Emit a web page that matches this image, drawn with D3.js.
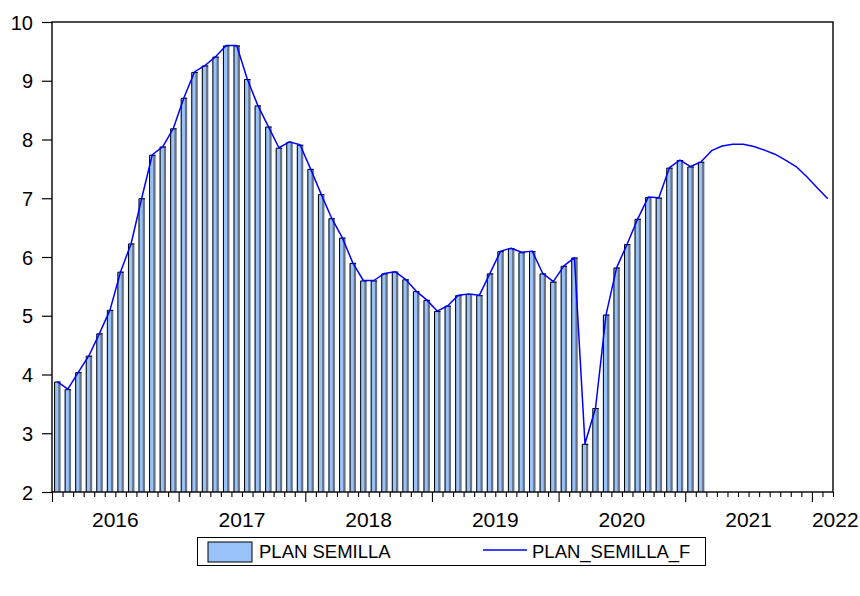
<!DOCTYPE html>
<html>
<head>
<meta charset="utf-8">
<script src="https://cdn.jsdelivr.net/npm/d3@7"></script>
<style>
  body { margin: 0; background: #fff; }
  svg text { font-family: Arial, "Liberation Sans", sans-serif; fill: #000; }
</style>
</head>
<body>
<svg id="chart" width="860" height="596"></svg>
<script>
// monthly observations, Jan 2016 .. Feb 2021
const planSemilla = [
  3.88, 3.75, 4.04, 4.32, 4.70, 5.10, 5.75, 6.23, 7.00, 7.74, 7.88, 8.19,
  8.71, 9.15, 9.26, 9.41, 9.60, 9.60, 9.03, 8.58, 8.22, 7.86, 7.96, 7.91,
  7.50, 7.07, 6.66, 6.33, 5.90, 5.60, 5.60, 5.72, 5.75, 5.62, 5.42, 5.27,
  5.08, 5.17, 5.35, 5.37, 5.35, 5.72, 6.10, 6.15, 6.08, 6.10, 5.72, 5.58,
  5.85, 5.99, 2.82, 3.43, 5.02, 5.82, 6.22, 6.65, 7.02, 7.01, 7.52, 7.65,
  7.54, 7.62
];
// forecast, Mar 2021 .. Mar 2022
const forecast = [7.81, 7.89, 7.92, 7.92, 7.88, 7.82, 7.75, 7.65, 7.54, 7.37, 7.18, 6.99];
const planSemillaF = planSemilla.concat(forecast);

const yTicks = [2, 3, 4, 5, 6, 7, 8, 9, 10];
const yearLabels = ['2016', '2017', '2018', '2019', '2020', '2021', '2022'];
const legendLabels = ['PLAN SEMILLA', 'PLAN_SEMILLA_F'];

const plot = {left: 52, right: 833, top: 22, bottom: 492};
const nMonths = planSemillaF.length;

const svg = d3.select('#chart');

const x = d3.scaleLinear()
  .domain([0, nMonths])
  .range([plot.left, plot.right]);

const y = d3.scaleLinear()
  .domain([2, 10])
  .range([plot.bottom, plot.top]);

// y axis
const yAxis = d3.axisLeft(y)
  .tickValues(yTicks)
  .tickSize(10)
  .tickPadding(9)
  .tickFormat(d3.format('d'));

const axisY = svg.append('g')
  .attr('transform', `translate(${plot.left}, 0)`)
  .call(yAxis);
axisY.select('.domain').remove();
axisY.selectAll('.tick line').attr('stroke', '#000').attr('stroke-width', 1.2);
axisY.selectAll('.tick text')
  .style('font-size', '20px')
  .attr('dy', '0.35em');

// x axis: monthly minor ticks, yearly major ticks
const monthTicks = d3.range(0, nMonths + 1);
const xAxisMinor = d3.axisBottom(x)
  .tickValues(monthTicks.filter(m => m % 12 !== 0))
  .tickSize(5)
  .tickFormat('');
const xAxisMajor = d3.axisBottom(x)
  .tickValues(monthTicks.filter(m => m % 12 === 0))
  .tickSize(10)
  .tickFormat('');

[xAxisMinor, xAxisMajor].forEach(ax => {
  const g = svg.append('g')
    .attr('transform', `translate(0, ${plot.bottom})`)
    .call(ax);
  g.select('.domain').remove();
  g.selectAll('.tick line').attr('stroke', '#000').attr('stroke-width', 1.1);
});

// year labels, centred on the visible part of each year
svg.append('g')
  .selectAll('text')
  .data(yearLabels)
  .enter().append('text')
    .style('font-size', '21px')
    .attr('y', 527)
    .each(function(d, i) {
      const a = i * 12;
      const b = Math.min(a + 12, nMonths);
      const el = d3.select(this);
      if (b - a < 6) {
        el.attr('x', x(a)).attr('text-anchor', 'start');
      } else {
        el.attr('x', (x(a) + x(b)) / 2).attr('text-anchor', 'middle');
      }
    })
    .text(d => d);

// bars
const barW = 6.4;
const bars = svg.append('g')
  .selectAll('g')
  .data(planSemilla)
  .enter().append('g')
    .attr('transform', (d, i) => `translate(${x(i + 0.5) - barW / 2}, 0)`);

bars.append('rect')
  .attr('x', 0)
  .attr('y', d => y(d))
  .attr('width', barW)
  .attr('height', d => plot.bottom - y(d))
  .attr('fill', '#99c2f8');

bars.append('rect')
  .attr('x', barW - 2.2)
  .attr('y', d => y(d))
  .attr('width', 2.2)
  .attr('height', d => plot.bottom - y(d))
  .attr('fill', '#6a7180');

bars.append('path')
  .attr('d', d => `M0.5,${plot.bottom}V${y(d) + 0.5}H${barW}`)
  .attr('fill', 'none')
  .attr('stroke', '#000')
  .attr('stroke-width', 1);

// line
const line = d3.line()
  .x((d, i) => x(i + 0.5))
  .y(d => y(d));

svg.append('path')
  .datum(planSemillaF)
  .attr('d', line)
  .attr('fill', 'none')
  .attr('stroke', '#0000ff')
  .attr('stroke-width', 1.5)
  .attr('stroke-linejoin', 'round');

// frame
svg.append('rect')
  .attr('x', plot.left)
  .attr('y', plot.top)
  .attr('width', plot.right - plot.left)
  .attr('height', plot.bottom - plot.top)
  .attr('fill', 'none')
  .attr('stroke', '#000')
  .attr('stroke-width', 1.4);

// legend
const legend = svg.append('g');
legend.append('rect')
  .attr('x', 197.5).attr('y', 537.5)
  .attr('width', 508).attr('height', 28)
  .attr('fill', '#fff')
  .attr('stroke', '#000')
  .attr('stroke-width', 1);

legend.append('rect')
  .attr('x', 208).attr('y', 542)
  .attr('width', 44).attr('height', 20)
  .attr('fill', '#99c2f8')
  .attr('stroke', '#000')
  .attr('stroke-width', 1);

legend.append('text')
  .attr('x', 259).attr('y', 558)
  .style('font-size', '18.5px')
  .text(legendLabels[0]);

legend.append('line')
  .attr('x1', 483).attr('x2', 527)
  .attr('y1', 550).attr('y2', 550)
  .attr('stroke', '#0000ff')
  .attr('stroke-width', 1.5);

legend.append('text')
  .attr('x', 532).attr('y', 558)
  .style('font-size', '18.5px')
  .text(legendLabels[1]);
</script>
</body>
</html>
